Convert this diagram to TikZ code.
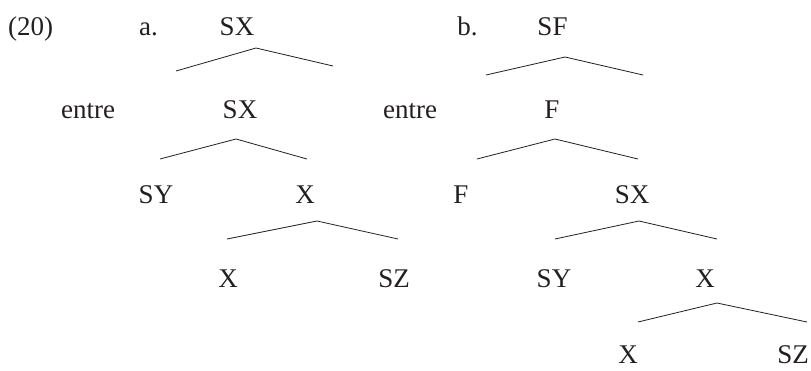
\documentclass[tikz,border=0pt]{standalone}
\usepackage{fontspec}
\setmainfont{Liberation Serif}
\definecolor{ink}{HTML}{231F20}
\begin{document}
\begin{tikzpicture}[x=1pt,y=-1pt,
  lab/.style={anchor=base,inner sep=0pt,text=ink,font=\fontsize{27}{31}\selectfont},
  roof/.style={draw=ink,line width=0.8pt}]
\useasboundingbox (0,0) rectangle (811,370);
% labels
\node[lab,anchor=base west] (num) at (8,35) {(20)};
\node[lab] (la) at (148.5,35) {a.};
\node[lab] (lb) at (467.5,35) {b.};
% tree a
\node[lab] (a0) at (237,35) {SX};
\node[lab] (aentre) at (88,118) {entre};
\node[lab] (a1) at (240,118) {SX};
\node[lab] (aSY) at (156,203) {SY};
\node[lab] (aX) at (305,203) {X};
\node[lab] (aXX) at (228,287) {X};
\node[lab] (aSZ) at (394,287) {SZ};
% tree b
\node[lab] (b0) at (552.5,35) {SF};
\node[lab] (bentre) at (410,118) {entre};
\node[lab] (b1) at (552,118) {F};
\node[lab] (bF) at (461,203) {F};
\node[lab] (bSX) at (632,203) {SX};
\node[lab] (bSY) at (554,287) {SY};
\node[lab] (bX) at (705,287) {X};
\node[lab] (bXX) at (628,363.5) {X};
\node[lab] (bSZ) at (793,363.5) {SZ};
% roofs (detached branches)
\coordinate (ra1l) at (176,71); \coordinate (ra1t) at (256,48); \coordinate (ra1r) at (333,66);
\coordinate (ra2l) at (160,159); \coordinate (ra2t) at (236,139); \coordinate (ra2r) at (307,159);
\coordinate (ra3l) at (227,239); \coordinate (ra3t) at (317,221); \coordinate (ra3r) at (398,239);
\coordinate (rb1l) at (486,75); \coordinate (rb1t) at (565,57); \coordinate (rb1r) at (643,75);
\coordinate (rb2l) at (477,159); \coordinate (rb2t) at (555,139); \coordinate (rb2r) at (638,159);
\coordinate (rb3l) at (555,239); \coordinate (rb3t) at (639,221); \coordinate (rb3r) at (717,239);
\coordinate (rb4l) at (638,322); \coordinate (rb4t) at (717,303); \coordinate (rb4r) at (807,322);
\draw[roof] (ra1l) -- (ra1t) -- (ra1r);
\draw[roof] (ra2l) -- (ra2t) -- (ra2r);
\draw[roof] (ra3l) -- (ra3t) -- (ra3r);
\draw[roof] (rb1l) -- (rb1t) -- (rb1r);
\draw[roof] (rb2l) -- (rb2t) -- (rb2r);
\draw[roof] (rb3l) -- (rb3t) -- (rb3r);
\draw[roof] (rb4l) -- (rb4t) -- (rb4r);
\end{tikzpicture}
\end{document}
